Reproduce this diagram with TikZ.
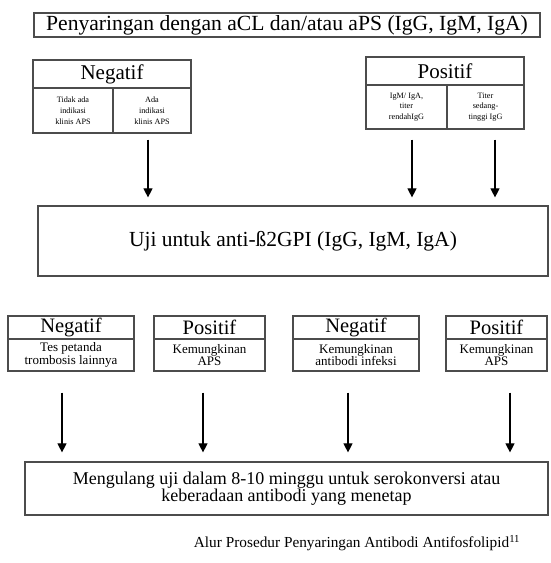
\documentclass[tikz,border=0pt]{standalone}
\usepackage{fontspec}
\setmainfont{Liberation Serif}
\usetikzlibrary{calc,arrows.meta}
\begin{document}
\begin{tikzpicture}[x=1pt,y=-1pt,
  box/.style={draw=black!70,line width=1.2pt,rectangle,inner sep=0pt,align=center,anchor=center},
  big/.style={font=\fontsize{21.6}{24}\selectfont},
  head/.style={box,font=\fontsize{21}{24}\selectfont},
  headb/.style={box,font=\fontsize{20.5}{24}\selectfont},
  tiny/.style={box,font=\fontsize{8.2}{10.8}\selectfont},
  small/.style={box,font=\fontsize{13}{12.5}\selectfont},
  arr/.style={line width=1.1pt,-{Triangle[width=9pt,length=9pt]}}]
\useasboundingbox (0,0) rectangle (550,563);
% top
\node[box,big,minimum width=506,minimum height=24] (T) at (287,25) {Penyaringan dengan aCL dan/atau aPS (IgG, IgM, IgA)};
% Negatif (top)
\node[head,minimum width=158,minimum height=28] (negH) at (112,74) {Negatif};
\node[tiny,minimum width=80,minimum height=45] (negA) at (73,110.5) {Tidak ada\\indikasi\\klinis APS};
\node[tiny,minimum width=78,minimum height=45] (negB) at (152,110.5) {Ada\\indikasi\\klinis APS};
% Positif (top)
\node[head,minimum width=158,minimum height=28] (posH) at (445,71) {Positif};
\node[tiny,minimum width=81,minimum height=44] (posA) at (406.5,107) {IgM/ IgA,\\titer\\rendahIgG};
\node[tiny,minimum width=77,minimum height=44] (posB) at (485.5,107) {Titer\\sedang-\\tinggi IgG};
% Uji
\node[box,font=\fontsize{21.5}{24}\selectfont,minimum width=510,minimum height=70] (uji) at (293,241) {Uji untuk anti-ß2GPI (IgG, IgM, IgA)};
% bottom row
\node[headb,minimum width=126,minimum height=23] (b1h) at (71,327.5) {Negatif};
\node[small,minimum width=126,minimum height=32] (b1) at (71,355) {Tes petanda\\trombosis lainnya};
\node[headb,minimum width=111,minimum height=23] (b2h) at (209.5,327.5) {Positif};
\node[small,minimum width=111,minimum height=32] (b2) at (209.5,355) {Kemungkinan\\APS};
\node[headb,minimum width=126,minimum height=23] (b3h) at (356,327.5) {Negatif};
\node[small,minimum width=126,minimum height=32] (b3) at (356,355) {Kemungkinan\\antibodi infeksi};
\node[headb,minimum width=101,minimum height=23] (b4h) at (496.5,327.5) {Positif};
\node[small,minimum width=101,minimum height=32] (b4) at (496.5,355) {Kemungkinan\\APS};
% repeat box
\node[box,font=\fontsize{18}{17}\selectfont,minimum width=523,minimum height=53] (rep) at (286.5,488.5) {Mengulang uji dalam 8-10 minggu untuk serokonversi atau\\keberadaan antibodi yang menetap};
% caption
\node[font=\fontsize{15.3}{18}\selectfont,inner sep=0pt] (cap) at (357,543) {Alur Prosedur Penyaringan Antibodi Antifosfolipid\textsuperscript{11}};
% arrows top
\draw[arr] ($(negB.south)+(-4,6)$) -- ($(negB.south |- uji.north)+(-4,-8)$);
\draw[arr] ($(posA.south)+(5.5,10)$) -- ($(posA.south |- uji.north)+(5.5,-8)$);
\draw[arr] ($(posB.south)+(9.5,10)$) -- ($(posB.south |- uji.north)+(9.5,-8)$);
% arrows bottom
\draw[arr] ($(b1.south)+(-9,21)$) -- ($(b1.south |- rep.north)+(-9,-9)$);
\draw[arr] ($(b2.south)+(-6.5,21)$) -- ($(b2.south |- rep.north)+(-6.5,-9)$);
\draw[arr] ($(b3.south)+(-8,21)$) -- ($(b3.south |- rep.north)+(-8,-9)$);
\draw[arr] ($(b4.south)+(13.5,21)$) -- ($(b4.south |- rep.north)+(13.5,-9)$);
\end{tikzpicture}
\end{document}
